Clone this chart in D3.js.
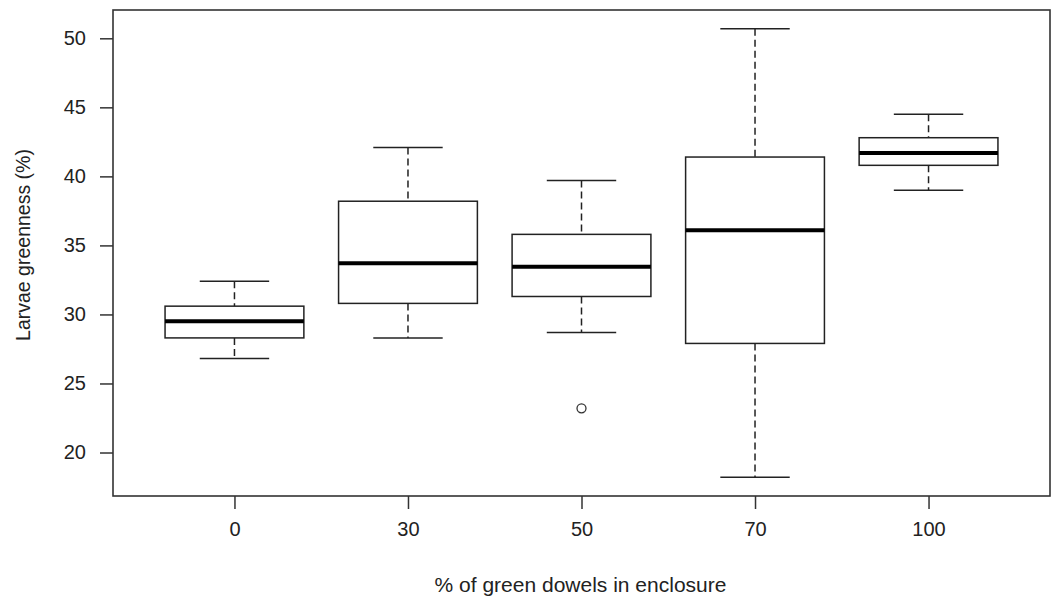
<!DOCTYPE html>
<html>
<head>
<meta charset="utf-8">
<script src="https://cdn.jsdelivr.net/npm/d3@7"></script>
<style>
  body { margin: 0; background: #fff; }
  text { font-family: "Liberation Sans", Arial, sans-serif; fill: #222; }
</style>
</head>
<body>
<script>
// datos
var grupos = ["0", "30", "50", "70", "100"]
var bigoteBajo = [26.8, 28.3, 28.7, 18.2, 39.0]
var q1 = [28.3, 30.8, 31.3, 27.9, 40.8]
var mediana = [29.5, 33.7, 33.45, 36.1, 41.7]
var q3 = [30.6, 38.2, 35.8, 41.4, 42.8]
var bigoteAlto = [32.4, 42.1, 39.7, 50.7, 44.5]
var atipicos = [[], [], [23.2], [], []]
var ticksY = [20, 25, 30, 35, 40, 45, 50]

var width = 1056, height = 603
var margin = { top: 10, bottom: 107, left: 113, right: 6 }

var svg = d3.select("body").append("svg")
  .attr("width", width)
  .attr("height", height)

var datos = grupos.map((g, i) => ({
  g: g, lo: bigoteBajo[i], q1: q1[i], med: mediana[i], q3: q3[i], hi: bigoteAlto[i], out: atipicos[i]
}))

// escalas: rango de R extendido un 4%
var escalaX = d3.scalePoint()
  .domain(grupos)
  .range([margin.left, width - margin.right])
  .padding(0.7)

var escalaY = d3.scaleLinear()
  .domain([16.85, 52.05])
  .range([height - margin.bottom, margin.top])

var paso = escalaX.step()
var medioAncho = paso * 0.4
var medioCap = medioAncho / 2

// ejes
var ejeX = d3.axisBottom(escalaX).tickSize(13).tickPadding(8).tickSizeOuter(0)
var gX = svg.append("g")
  .attr("transform", "translate(0," + (height - margin.bottom) + ")")
  .call(ejeX)
gX.select(".domain").remove()
gX.selectAll("line").attr("stroke", "#333").attr("stroke-width", 1.5)
gX.selectAll("text").style("font-size", "20px").attr("fill", "#222")
  .attr("dy", "0.95em")

var ejeY = d3.axisLeft(escalaY).tickValues(ticksY).tickSize(13).tickPadding(14).tickSizeOuter(0)
var gY = svg.append("g")
  .attr("transform", "translate(" + margin.left + ",0)")
  .call(ejeY)
gY.select(".domain").remove()
gY.selectAll("line").attr("stroke", "#333").attr("stroke-width", 1.5)
gY.selectAll("text").style("font-size", "20px").attr("fill", "#222")

// marco
svg.append("rect")
  .attr("x", margin.left)
  .attr("y", margin.top)
  .attr("width", width - margin.left - margin.right)
  .attr("height", height - margin.top - margin.bottom)
  .attr("fill", "none")
  .attr("stroke", "#333")
  .attr("stroke-width", 1.6)

var cajas = svg.selectAll("g.caja")
  .data(datos)
  .enter()
  .append("g")
  .attr("class", "caja")

// bigotes punteados
cajas.append("line")
  .attr("x1", d => escalaX(d.g)).attr("x2", d => escalaX(d.g))
  .attr("y1", d => escalaY(d.hi)).attr("y2", d => escalaY(d.q3))
  .attr("stroke", "#222").attr("stroke-width", 1.5).attr("stroke-dasharray", "7,4")
cajas.append("line")
  .attr("x1", d => escalaX(d.g)).attr("x2", d => escalaX(d.g))
  .attr("y1", d => escalaY(d.q1)).attr("y2", d => escalaY(d.lo))
  .attr("stroke", "#222").attr("stroke-width", 1.5).attr("stroke-dasharray", "7,4")

// topes de los bigotes
cajas.append("line")
  .attr("x1", d => escalaX(d.g) - medioCap).attr("x2", d => escalaX(d.g) + medioCap)
  .attr("y1", d => escalaY(d.hi)).attr("y2", d => escalaY(d.hi))
  .attr("stroke", "#222").attr("stroke-width", 1.5)
cajas.append("line")
  .attr("x1", d => escalaX(d.g) - medioCap).attr("x2", d => escalaX(d.g) + medioCap)
  .attr("y1", d => escalaY(d.lo)).attr("y2", d => escalaY(d.lo))
  .attr("stroke", "#222").attr("stroke-width", 1.5)

// caja
cajas.append("rect")
  .attr("x", d => escalaX(d.g) - medioAncho)
  .attr("width", medioAncho * 2)
  .attr("y", d => escalaY(d.q3))
  .attr("height", d => escalaY(d.q1) - escalaY(d.q3))
  .attr("fill", "#fff")
  .attr("stroke", "#222").attr("stroke-width", 1.5)

// mediana
cajas.append("line")
  .attr("x1", d => escalaX(d.g) - medioAncho).attr("x2", d => escalaX(d.g) + medioAncho)
  .attr("y1", d => escalaY(d.med)).attr("y2", d => escalaY(d.med))
  .attr("stroke", "#000").attr("stroke-width", 4)

// atipicos
cajas.selectAll("circle")
  .data(d => d.out.map(v => ({ g: d.g, v: v })))
  .enter()
  .append("circle")
  .attr("cx", d => escalaX(d.g))
  .attr("cy", d => escalaY(d.v))
  .attr("r", 4.5)
  .attr("fill", "none")
  .attr("stroke", "#333").attr("stroke-width", 1.3)

// titulos
svg.append("text")
  .attr("x", 580.5)
  .attr("y", 592)
  .attr("text-anchor", "middle")
  .style("font-size", "21px")
  .text("% of green dowels in enclosure")

svg.append("text")
  .attr("transform", "translate(30,245) rotate(-90)")
  .attr("text-anchor", "middle")
  .style("font-size", "19.5px")
  .text("Larvae greenness (%)")
</script>
</body>
</html>
